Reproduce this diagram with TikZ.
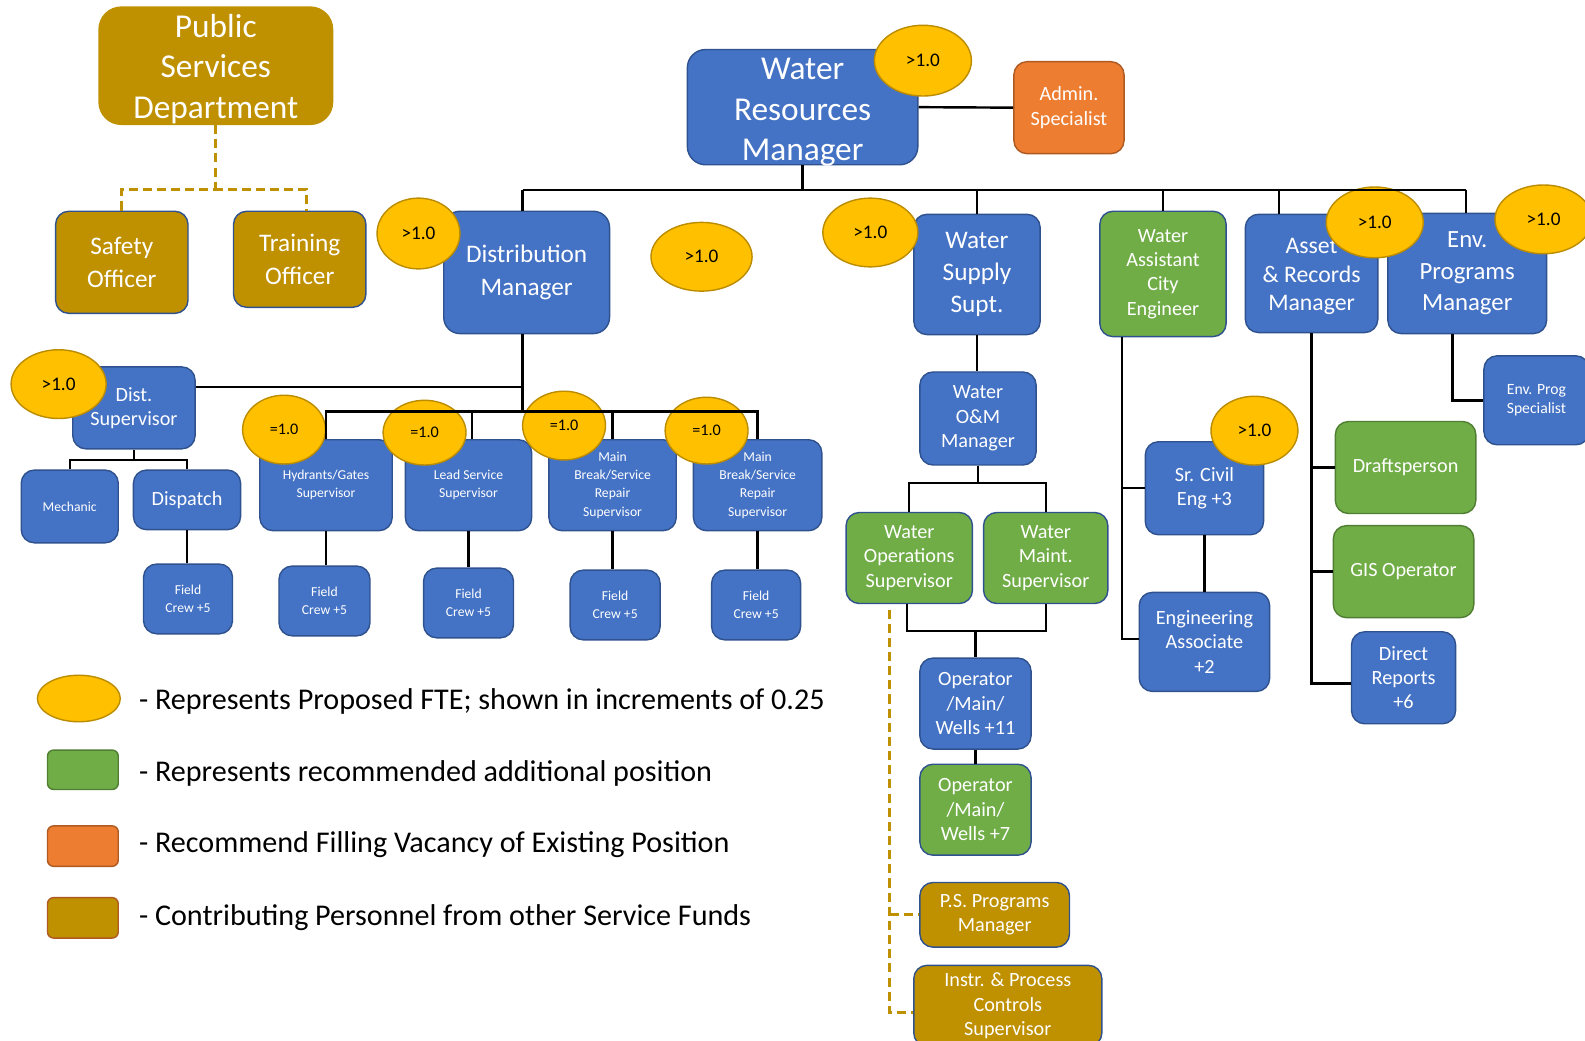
\documentclass[tikz,border=0pt]{standalone}
\usepackage{fontspec}
\setmainfont{Carlito}
\usetikzlibrary{shapes.geometric}

\definecolor{ublue}{HTML}{4472C4}
\definecolor{bdblue}{HTML}{2F528F}
\definecolor{ugreen}{HTML}{70AD47}
\definecolor{bdgreen}{HTML}{507E32}
\definecolor{ugold}{HTML}{BF9000}
\definecolor{uorange}{HTML}{ED7D31}
\definecolor{bdorange}{HTML}{AE5A21}
\definecolor{ufte}{HTML}{FFC000}
\definecolor{bdfte}{HTML}{BC8C00}

\newcommand\fsz[2]{\fontsize{#1}{#2}\selectfont}

\tikzset{
  sz/.style 2 args={minimum width=#1pt, minimum height=#2pt},
  box/.style={rounded corners=13pt, draw=bdblue, line width=1.4pt, text=white,
    align=center, inner sep=1pt},
  bluebox/.style={box, fill=ublue},
  greenbox/.style={box, fill=ugreen},
  goldbox/.style={box, fill=ugold},
  orangebox/.style={box, fill=uorange, draw=bdorange},
  boxtext/.style={text=white, align=center, inner sep=0pt},
  fte/.style={ellipse, fill=ufte, draw=bdfte, line width=1.4pt, inner sep=0pt,
    text=black},
  conn/.style={line width=2.4pt, black},
  gdash/.style={line width=3pt, ugold, dash pattern=on 9pt off 5pt},
  fA/.style={font=\fsz{33}{40}},
  fB/.style={font=\fsz{25}{32}},
  fC/.style={font=\fsz{20}{24}},
  fD/.style={font=\fsz{13.5}{18}},
  fE/.style={font=\fsz{15.5}{19}},
  fgt/.style={font=\fsz{19}{22}},
  feq/.style={font=\fsz{16}{19}},
  legtext/.style={anchor=west, font=\fsz{29.8}{34}},
}

\begin{document}
\begin{tikzpicture}[x=1pt, y=-1pt]
\useasboundingbox (0,0) rectangle (1568,1029);
\clip (0,0) rectangle (1568,1029);

% ---------- positions ----------
\node[goldbox, draw=ugold, rounded corners=22pt, sz={231}{116}] (psd) at (213.5,65) {};
\node[boxtext, fA] (psdt) at ([yshift=-3pt]psd.center) {Public\\Services\\Department};
\node[goldbox, sz={131}{101}, fB] (safety) at (120.5,259.5) {Safety\\Officer};
\node[goldbox, sz={131}{95}, fB] (training) at (296.5,256.5) {Training\\Officer};

\node[bluebox, rounded corners=18pt, sz={228}{114}] (wrm) at (794,106) {};
\node[boxtext, fA] (wrmt) at ([yshift=-5pt]wrm.center) {Water\\Resources\\Manager};
\node[orangebox, sz={109}{91}, fC] (admin) at (1057.5,106.5) {Admin.\\Specialist};

\node[bluebox, rounded corners=16pt, sz={164}{121}, fB] (dm) at (521,269.5) {Distribution\\Manager};
\node[bluebox, sz={125}{119}, fB] (ws) at (966.5,271.5) {Water\\Supply\\Supt.};
\node[greenbox, sz={125}{124}, fC] (wace) at (1150.5,271) {Water\\Assistant\\City\\Engineer};
\node[bluebox, sz={131}{117}] (ar) at (1297.5,270.5) {};
\node[boxtext, font=\fsz{23.5}{28}] (art) at ([yshift=-3pt]ar.center) {Asset\\\& Records\\Manager};
\node[bluebox, sz={157}{119}, font=\fsz{24.5}{31}] (ep) at (1451.5,270.5) {Env.\\Programs\\Manager};
\node[bluebox, sz={104}{88}, fE] (eps) at (1520,396) {Env. Prog\\Specialist};

\node[bluebox, sz={121}{81}, fC] (dsup) at (132.5,403.5) {Dist.\\Supervisor};
\node[bluebox, sz={96}{72}, fD] (mech) at (69,501) {Mechanic};
\node[bluebox, sz={106}{59}, fC] (disp) at (185,494.5) {Dispatch};
\node[bluebox, sz={88}{69}, fD] (fc1) at (186,592.5) {Field\\Crew +5};

\node[bluebox, sz={131}{90}, fD] (hyd) at (322.5,480) {Hydrants/Gates\\Supervisor};
\node[bluebox, sz={125}{90}, fD] (lead) at (463.5,480) {Lead Service\\Supervisor};
\node[bluebox, sz={126}{90}, fD] (mb1) at (606,480) {Main\\Break/Service\\Repair\\Supervisor};
\node[bluebox, sz={127}{90}, fD] (mb2) at (749.5,480) {Main\\Break/Service\\Repair\\Supervisor};
\node[bluebox, sz={90}{69}, fD] (fc2) at (321,594.5) {Field\\Crew +5};
\node[bluebox, sz={89}{69}, fD] (fc3) at (463.5,596.5) {Field\\Crew +5};
\node[bluebox, sz={89}{69}, fD] (fc4) at (608.5,598.5) {Field\\Crew +5};
\node[bluebox, sz={88}{69}, fD] (fc5) at (748,598.5) {Field\\Crew +5};

\node[bluebox, sz={115}{92}, fC] (wom) at (967.5,414) {Water\\O\&M\\Manager};
\node[greenbox, sz={125}{90}, fC] (wops) at (899.5,552) {Water\\Operations\\Supervisor};
\node[greenbox, sz={123}{90}, fC] (wmnt) at (1034.5,552) {Water\\Maint.\\Supervisor};
\node[bluebox, sz={110}{90}, fC] (op11) at (965,696) {Operator\\/Main/\\Wells +11};
\node[greenbox, sz={110}{90}, fC] (op7) at (965,801) {Operator\\/Main/\\Wells +7};
\node[goldbox, sz={148}{64}, fC] (psm) at (984,905) {P.S. Programs\\Manager};
\node[goldbox, sz={186}{80}, fC] (instr) at (997,995) {Instr. \& Process\\Controls\\Supervisor};

\node[bluebox, sz={117}{92}, fC] (sce) at (1191.5,483) {Sr. Civil\\Eng +3};
\node[bluebox, sz={129}{98}, fC] (ea) at (1191.5,635) {Engineering\\Associate\\+2};

\node[greenbox, draw=bdgreen, sz={139}{91}, fC] (draft) at (1390.5,462.5) {Draftsperson};
\node[greenbox, draw=bdgreen, sz={139}{91}, fC] (gis) at (1388.5,565.5) {GIS Operator};
\node[bluebox, sz={103}{91}, fC] (dr) at (1388.5,670.5) {Direct\\Reports\\+6};

% ---------- proposed FTE markers ----------
\node[fte, sz={96}{70}, fgt] (wrmf) at (913,60) {>1.0};
\node[fte, sz={82}{70}, fgt] (dmf) at (414,231) {>1.0};
\node[fte, sz={100}{68}, fgt] (flt) at (694,254) {>1.0};
\node[fte, sz={94}{68}, fgt] (wsf) at (861,230) {>1.0};
\node[fte, sz={96}{70}, fgt] (arf) at (1360,220) {>1.0};
\node[fte, sz={96}{68}, fgt] (epf) at (1527,217) {>1.0};
\node[fte, sz={94}{68}, fgt] (dsupf) at (58,380) {>1.0};
\node[fte, sz={82}{68}, feq] (hydf) at (281,425) {=1.0};
\node[fte, sz={82}{64}, feq] (leadf) at (420,428) {=1.0};
\node[fte, sz={82}{68}, feq] (mb1f) at (558,421) {=1.0};
\node[fte, sz={82}{66}, feq] (mb2f) at (699,426) {=1.0};
\node[fte, sz={86}{68}, fgt] (scef) at (1241,426) {>1.0};

% ---------- connectors ----------
\draw[conn] (wrm.east) -- (admin.west);
\coordinate (busL) at (517,188);
\coordinate (busR) at (1450,188);
\draw[conn] (wrm.south) -- (wrm.south |- busL);
\draw[conn] (busL) -- (busR);
\draw[conn] (busL) -- (busL |- dm.north);
\draw[conn] (ws.north) -- (ws.north |- busL);
\draw[conn] (wace.north) -- (wace.north |- busL);
\draw[conn] ([xshift=-32pt]ar.north) -- ([xshift=-32pt]ar.north |- busL);
\draw[conn] (busR) -- (busR |- ep.north);
\draw[conn] ([xshift=-14.5pt]ep.south) |- (eps.west);

% distribution branch
\coordinate (dj) at (517,383);
\coordinate (dk) at (517,407);
\draw[conn] (dm.south -| dj) -- (dj) -- (dk);
\draw[conn] (dsup.east |- dj) -- (dj);
\draw[conn] (hyd.north) -- (hyd.north |- dk) -- (mb2.north |- dk) -- (mb2.north);
\draw[conn] ([xshift=3.5pt]lead.north) -- ([xshift=3.5pt]lead.north |- dk);
\draw[conn] (mb1.north) -- (mb1.north |- dk);
\coordinate (dsj) at (132.5,455);
\draw[conn] (dsup.south) -- (dsj);
\draw[conn] (mech.north) -- (mech.north |- dsj) -- (disp.north |- dsj) -- (disp.north);
\draw[conn] (disp.south) -- (disp.south |- fc1.north);
\draw[conn] (hyd.south) -- (hyd.south |- fc2.north);
\draw[conn] (lead.south) -- (lead.south |- fc3.north);
\draw[conn] (mb1.south) -- (mb1.south |- fc4.north);
\draw[conn] (mb2.south) -- (mb2.south |- fc5.north);

% water supply branch
\draw[conn] (ws.south) -- (ws.south |- wom.north);
\coordinate (omj) at (967.5,478);
\draw[conn] (wom.south) -- (omj);
\draw[conn] (wops.north) -- (wops.north |- omj) -- (wmnt.north |- omj) -- (wmnt.north);
\coordinate (opj) at (965,624);
\draw[conn] ([xshift=-2pt]wops.south) -- ([xshift=-2pt]wops.south |- opj) -- (wmnt.south |- opj) -- (wmnt.south);
\draw[conn] (opj) -- (op11.north);
\draw[conn] (op11.south) -- (op7.north);

% contributing personnel (dashed)
\coordinate (gt) at (880,603);
\coordinate (gb) at (880,1002);
\draw[gdash] (gt) -- (gb) -- (gb -| instr.west);
\draw[gdash] (gt |- psm.west) -- (psm.west);
\draw[gdash] (psd.south) -- (213.5,187) coordinate (pj);
\draw[gdash] (safety.north) -- (safety.north |- pj) -- ([xshift=6.5pt]training.north |- pj) -- ([xshift=6.5pt]training.north);

% engineering branch
\coordinate (acb) at (1110,632);
\draw[conn] (wace.south -| acb) -- (acb) -- (acb -| ea.west);
\draw[conn] (acb |- sce.west) -- (sce.west);
\draw[conn] (sce.south) -- (ea.north);

% asset & records branch
\coordinate (arb) at (1298,676);
\draw[conn] (ar.south) -- (ar.south |- arb) -- (arb -| dr.west);
\draw[conn] (arb |- draft.west) -- (draft.west);
\draw[conn] (arb |- gis.west) -- (gis.west);

% ---------- legend ----------
\node[fte, sz={82}{46}] (lgf) at (78,691) {};
\node[greenbox, draw=bdgreen, rounded corners=6pt, sz={70}{39}] (lgg) at (82,761.5) {};
\node[orangebox, rounded corners=6pt, sz={70}{40}] (lgo) at (82,837) {};
\node[goldbox, draw=bdorange, rounded corners=6pt, sz={70}{40}] (lgd) at (82,908) {};
\node[legtext] (lt1) at (134,694) {- Represents Proposed FTE; shown in increments of 0.25};
\node[legtext] (lt2) at (134,765) {- Represents recommended additional position};
\node[legtext] (lt3) at (134,836) {- Recommend Filling Vacancy of Existing Position};
\node[legtext] (lt4) at (134,908) {- Contributing Personnel from other Service Funds};
\end{tikzpicture}
\end{document}
